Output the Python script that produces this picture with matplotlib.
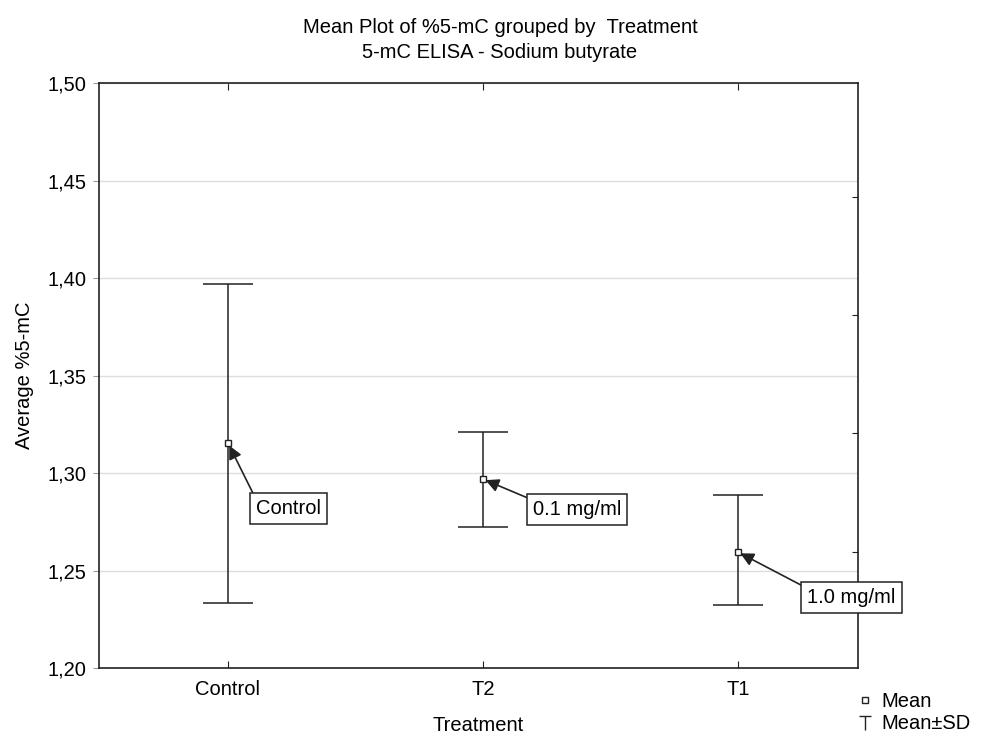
import matplotlib
matplotlib.use('Agg')
import matplotlib.pyplot as plt
from matplotlib.lines import Line2D
from matplotlib.path import Path
from matplotlib.ticker import FuncFormatter

plt.rcParams['font.family'] = ['Liberation Sans', 'DejaVu Sans']

groups = ['Control', 'T2', 'T1']
means = [1.3154, 1.2969, 1.2595]
sd_upper = [1.3969, 1.3210, 1.2887]
sd_lower = [1.2333, 1.2723, 1.2323]
labels = ['Control', '0.1 mg/ml', '1.0 mg/ml']
label_offsets = [(20, -47), (36, -22), (50, -33)]
right_ticks = [1.4415, 1.3810, 1.3205, 1.2595]

fs = 14.5

fig = plt.figure(figsize=(9.86, 7.36), dpi=100)
ax = fig.add_axes([0.1004, 0.0924, 0.7694, 0.7946])

x = list(range(len(groups)))
err_low = [m - lo for m, lo in zip(means, sd_lower)]
err_high = [hi - m for m, hi in zip(means, sd_upper)]
ax.errorbar(x, means, yerr=[err_low, err_high], fmt='none', ecolor='#222222',
            elinewidth=1.1, capsize=18, capthick=1.1, zorder=3)
ax.plot(x, means, ls='none', marker='s', ms=5, mfc='white', mec='#222222',
        mew=1.0, zorder=4)

for xi, m, lab, off in zip(x, means, labels, label_offsets):
    ax.annotate(lab, xy=(xi, m), xytext=off, textcoords='offset points',
                fontsize=fs, va='center', ha='left',
                bbox=dict(boxstyle='square,pad=0.3', fc='white', ec='#222222', lw=1.1),
                arrowprops=dict(arrowstyle='-|>', color='#222222', lw=1.2,
                                shrinkA=0, shrinkB=2, relpos=(0, 1),
                                mutation_scale=20),
                zorder=5)

ax.set_xlim(-0.506, 2.47)
ax.set_ylim(1.20, 1.50)
ax.set_xticks(x)
ax.set_xticklabels(groups, fontsize=fs)
ax.set_yticks([1.20, 1.25, 1.30, 1.35, 1.40, 1.45, 1.50])
ax.yaxis.set_major_formatter(FuncFormatter(lambda v, p: f"{v:.2f}".replace('.', ',')))
ax.tick_params(axis='y', labelsize=fs, direction='out', length=4, color='#999999', pad=5)
ax.tick_params(axis='x', direction='in', length=5, color='#222222', pad=9, top=True)
ax.yaxis.grid(True, color='#dddddd', lw=1)
ax.set_axisbelow(True)
for s in ax.spines.values():
    s.set_color('#222222')
    s.set_linewidth(1.2)

ax_r = ax.twinx()
ax_r.set_ylim(ax.get_ylim())
ax_r.set_yticks(right_ticks)
ax_r.set_yticklabels([])
ax_r.tick_params(axis='y', direction='in', length=4, color='#222222')
for s in ax_r.spines.values():
    s.set_visible(False)

ax.set_ylabel('Average %5-mC', fontsize=fs, labelpad=10)
ax.set_xlabel('Treatment', fontsize=fs, labelpad=12)

fig.text(0.507, 0.963, 'Mean Plot of %5-mC grouped by  Treatment', ha='center',
         va='center', fontsize=fs)
fig.text(0.507, 0.929, '5-mC ELISA - Sodium butyrate', ha='center', va='center',
         fontsize=fs)

# T-shaped marker for the SD whisker entry
tee = Path([(-1, 1), (1, 1), (0, 1), (0, -1.2)],
           [Path.MOVETO, Path.LINETO, Path.MOVETO, Path.LINETO])
handles = [
    Line2D([], [], ls='none', marker='s', ms=5, mfc='white', mec='#222222', mew=1.0),
    Line2D([], [], ls='none', marker=tee, ms=11, mew=1.0, color='#222222'),
]
fig.legend(handles, ['Mean', 'Mean±SD'], loc='lower left',
           bbox_to_anchor=(0.853, -0.018), frameon=False, fontsize=fs,
           handlelength=0.8, handletextpad=0.4, labelspacing=0.15, borderpad=0.3)

fig.savefig('out.png', dpi=100)
